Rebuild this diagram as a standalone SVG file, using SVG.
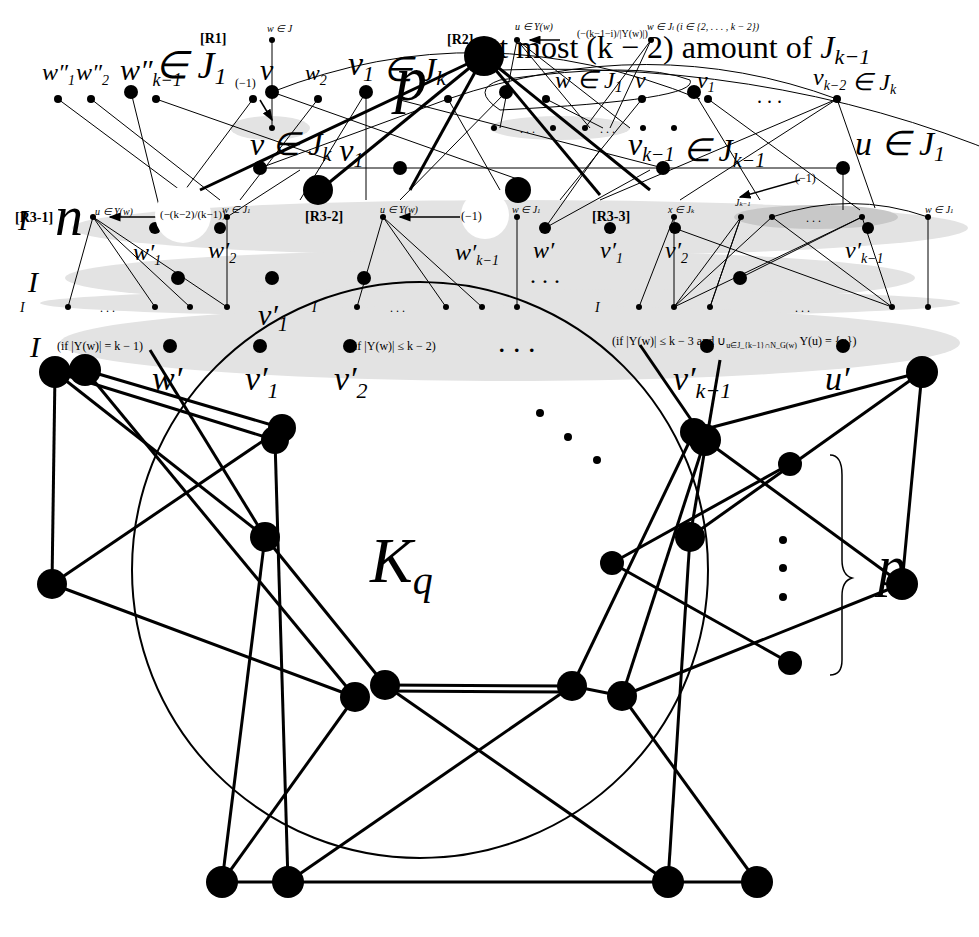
<svg xmlns="http://www.w3.org/2000/svg" width="979" height="937" viewBox="0 0 979 937">
<style>
.t{font-family:"Liberation Serif",serif;font-style:italic}
.r{font-family:"Liberation Serif",serif}
.b{font-family:"Liberation Serif",serif;font-weight:bold}
.thin line{stroke:#000;stroke-width:1}
.thick line{stroke:#000;stroke-width:3}
</style>
<defs><marker id="ar" markerWidth="8" markerHeight="6" refX="7" refY="3" orient="auto"><path d="M0,0L8,3L0,6z"/></marker></defs>
<rect width="979" height="937" fill="#fff"/>
<g id="bands" fill="#e3e3e3">
<ellipse cx="520" cy="228" rx="448" ry="28"/>
<ellipse cx="490" cy="278" rx="425" ry="28"/>
<ellipse cx="500" cy="303" rx="460" ry="14"/>
<ellipse cx="510" cy="343" rx="450" ry="38"/>
<ellipse cx="270" cy="128" rx="40" ry="12"/>
<ellipse cx="560" cy="128" rx="70" ry="12"/>
<ellipse cx="816" cy="217" rx="82" ry="12" fill="#c8c8c8"/>
</g>
<g id="connectors" fill="none" stroke="#000">
<circle cx="420" cy="570" r="288" stroke-width="2"/>
<g class="thick">
<line x1="55" y1="372" x2="275" y2="440"/><line x1="85" y1="370" x2="282" y2="428"/>
<line x1="55" y1="372" x2="265" y2="537"/><line x1="85" y1="370" x2="355" y2="697"/>
<line x1="55" y1="372" x2="52" y2="584"/><line x1="52" y1="584" x2="282" y2="428"/>
<line x1="52" y1="584" x2="355" y2="697"/><line x1="265" y1="537" x2="222" y2="882"/>
<line x1="265" y1="537" x2="385" y2="685"/><line x1="275" y1="440" x2="288" y2="882"/>
<line x1="385" y1="685" x2="572" y2="686"/><line x1="385" y1="691" x2="572" y2="692"/>
<line x1="355" y1="697" x2="222" y2="882"/><line x1="385" y1="685" x2="668" y2="882"/>
<line x1="222" y1="882" x2="288" y2="882"/><line x1="288" y1="882" x2="668" y2="882"/>
<line x1="668" y1="882" x2="757" y2="882"/><line x1="572" y1="686" x2="288" y2="882"/>
<line x1="622" y1="696" x2="757" y2="882"/><line x1="622" y1="696" x2="705" y2="440"/>
<line x1="572" y1="686" x2="694" y2="432"/><line x1="690" y1="537" x2="668" y2="882"/>
<line x1="690" y1="537" x2="922" y2="372"/><line x1="705" y1="440" x2="902" y2="584"/>
<line x1="922" y1="372" x2="902" y2="584"/><line x1="902" y1="584" x2="622" y2="696"/>
<line x1="694" y1="432" x2="922" y2="372"/><line x1="612" y1="563" x2="790" y2="663"/>
<line x1="612" y1="563" x2="790" y2="464"/><line x1="265" y1="537" x2="150" y2="350"/>
<line x1="705" y1="440" x2="640" y2="345"/><line x1="690" y1="537" x2="720" y2="360"/>
<line x1="572" y1="686" x2="622" y2="696"/>
<line x1="484" y1="56" x2="320" y2="190"/><line x1="484" y1="56" x2="410" y2="190"/>
<line x1="484" y1="56" x2="200" y2="190"/><line x1="484" y1="56" x2="650" y2="190"/>
<line x1="484" y1="56" x2="600" y2="195"/>
</g>
<g class="thin">
<line x1="58" y1="99" x2="180" y2="190"/><line x1="91" y1="99" x2="220" y2="200"/>
<line x1="131" y1="92" x2="160" y2="210"/><line x1="156" y1="99" x2="330" y2="160"/>
<line x1="272" y1="40" x2="272" y2="128"/><line x1="253" y1="99" x2="185" y2="190"/>
<line x1="272" y1="92" x2="520" y2="180"/><line x1="318" y1="99" x2="240" y2="200"/>
<line x1="366" y1="92" x2="366" y2="200"/><line x1="366" y1="92" x2="300" y2="200"/>
<line x1="448" y1="99" x2="500" y2="190"/><line x1="448" y1="99" x2="260" y2="168"/>
<line x1="506" y1="92" x2="400" y2="200"/><line x1="546" y1="99" x2="603" y2="128"/>
<line x1="642" y1="99" x2="560" y2="200"/><line x1="694" y1="92" x2="760" y2="200"/>
<line x1="708" y1="99" x2="860" y2="210"/><line x1="837" y1="99" x2="600" y2="200"/>
<line x1="837" y1="99" x2="680" y2="200"/><line x1="837" y1="99" x2="875" y2="208"/>
<line x1="517" y1="40" x2="500" y2="128"/><line x1="517" y1="40" x2="590" y2="128"/>
<line x1="651" y1="40" x2="610" y2="128"/><line x1="651" y1="40" x2="585" y2="128"/>
<line x1="517" y1="40" x2="630" y2="128"/><line x1="843" y1="168" x2="843" y2="210"/>
<line x1="260" y1="168" x2="840" y2="168"/><line x1="663" y1="168" x2="400" y2="100"/>
<line x1="93" y1="217" x2="68" y2="307"/><line x1="93" y1="217" x2="155" y2="307"/>
<line x1="93" y1="217" x2="190" y2="307"/><line x1="93" y1="217" x2="227" y2="307"/>
<line x1="227" y1="217" x2="227" y2="307"/><line x1="227" y1="217" x2="300" y2="170"/>
<line x1="383" y1="217" x2="357" y2="307"/><line x1="383" y1="217" x2="446" y2="307"/>
<line x1="383" y1="217" x2="482" y2="307"/><line x1="517" y1="217" x2="517" y2="307"/>
<line x1="545" y1="228" x2="650" y2="170"/><line x1="545" y1="228" x2="600" y2="150"/>
<line x1="674" y1="217" x2="674" y2="307"/><line x1="674" y1="217" x2="639" y2="307"/>
<line x1="741" y1="217" x2="674" y2="307"/><line x1="741" y1="217" x2="710" y2="307"/>
<line x1="772" y1="217" x2="674" y2="307"/><line x1="772" y1="217" x2="892" y2="307"/>
<line x1="862" y1="217" x2="674" y2="307"/><line x1="862" y1="217" x2="892" y2="307"/>
<line x1="928" y1="217" x2="928" y2="307"/><line x1="674" y1="228" x2="892" y2="307"/>
<line x1="741" y1="217" x2="710" y2="307"/><line x1="862" y1="217" x2="740" y2="278"/>
<path d="M272,92 Q480,10 700,99"/><path d="M448,99 Q650,30 837,99"/>
<path d="M500,80 Q640,60 690,80 Q700,100 500,110 Q470,90 500,80"/>
<path d="M505,70 Q800,60 1040,170" transform="translate(-4,0)"/>
<path d="M772,217 Q850,190 928,217"/>
</g>
<g stroke-width="1.5" marker-end="url(#ar)">
<line x1="180" y1="217" x2="110" y2="217"/><line x1="460" y1="217" x2="400" y2="217"/>
<line x1="560" y1="40" x2="530" y2="40"/><line x1="260" y1="100" x2="272" y2="120"/>
<line x1="800" y1="180" x2="740" y2="197"/>
</g>
</g>
<g id="nodes" fill="#000">
<g id="big"><circle cx="55" cy="372" r="16"/><circle cx="85" cy="370" r="16"/><circle cx="275" cy="440" r="14"/><circle cx="282" cy="428" r="14"/><circle cx="265" cy="537" r="15"/><circle cx="52" cy="584" r="15"/><circle cx="355" cy="697" r="15"/><circle cx="385" cy="685" r="15"/><circle cx="572" cy="686" r="15"/><circle cx="622" cy="696" r="15"/><circle cx="222" cy="882" r="16"/><circle cx="288" cy="882" r="16"/><circle cx="668" cy="882" r="16"/><circle cx="757" cy="882" r="16"/><circle cx="705" cy="440" r="16"/><circle cx="694" cy="432" r="14"/><circle cx="690" cy="537" r="15"/><circle cx="922" cy="372" r="16"/><circle cx="902" cy="584" r="16"/><circle cx="790" cy="464" r="12"/><circle cx="612" cy="563" r="12"/><circle cx="790" cy="663" r="12"/><circle cx="484" cy="56" r="20"/><circle cx="318" cy="190" r="15"/><circle cx="518" cy="190" r="13"/></g>
<g id="dots"><circle cx="540" cy="413" r="4"/><circle cx="568" cy="437" r="4"/><circle cx="597" cy="460" r="4"/><circle cx="783" cy="540" r="4"/><circle cx="783" cy="568" r="4"/><circle cx="783" cy="597" r="4"/></g>
<g id="mid"><circle cx="131" cy="92" r="7"/><circle cx="272" cy="92" r="7"/><circle cx="366" cy="92" r="7"/><circle cx="506" cy="92" r="7"/><circle cx="694" cy="92" r="7"/><circle cx="260" cy="168" r="7"/><circle cx="400" cy="168" r="7"/><circle cx="663" cy="168" r="7"/><circle cx="843" cy="168" r="7"/><circle cx="155" cy="228" r="6"/><circle cx="220" cy="228" r="6"/><circle cx="545" cy="228" r="6"/><circle cx="610" cy="228" r="6"/><circle cx="675" cy="228" r="6"/><circle cx="868" cy="228" r="6"/><circle cx="178" cy="278" r="7"/><circle cx="272" cy="278" r="7"/><circle cx="364" cy="278" r="7"/><circle cx="740" cy="278" r="7"/><circle cx="170" cy="346" r="7"/><circle cx="260" cy="346" r="7"/><circle cx="350" cy="346" r="7"/><circle cx="707" cy="346" r="7"/><circle cx="843" cy="346" r="7"/></g>
<g id="small"><circle cx="58" cy="99" r="4"/><circle cx="91" cy="99" r="4"/><circle cx="156" cy="99" r="4"/><circle cx="272" cy="40" r="3"/><circle cx="253" cy="99" r="4"/><circle cx="318" cy="99" r="4"/><circle cx="448" cy="99" r="4"/><circle cx="546" cy="99" r="4"/><circle cx="642" cy="99" r="4"/><circle cx="708" cy="99" r="4"/><circle cx="837" cy="99" r="4"/><circle cx="272" cy="128" r="3"/><circle cx="494" cy="128" r="3"/><circle cx="553" cy="128" r="3"/><circle cx="585" cy="128" r="3"/><circle cx="643" cy="128" r="3"/><circle cx="674" cy="128" r="3"/><circle cx="517" cy="40" r="3"/><circle cx="651" cy="40" r="3"/><circle cx="93" cy="217" r="3"/><circle cx="227" cy="217" r="3"/><circle cx="383" cy="217" r="3"/><circle cx="517" cy="217" r="3"/><circle cx="674" cy="217" r="3"/><circle cx="741" cy="217" r="3"/><circle cx="772" cy="217" r="3"/><circle cx="862" cy="217" r="3"/><circle cx="928" cy="217" r="3"/><circle cx="68" cy="307" r="3"/><circle cx="155" cy="307" r="3"/><circle cx="190" cy="307" r="3"/><circle cx="227" cy="307" r="3"/><circle cx="357" cy="307" r="3"/><circle cx="446" cy="307" r="3"/><circle cx="482" cy="307" r="3"/><circle cx="517" cy="307" r="3"/><circle cx="639" cy="307" r="3"/><circle cx="674" cy="307" r="3"/><circle cx="710" cy="307" r="3"/><circle cx="892" cy="307" r="3"/><circle cx="928" cy="307" r="3"/></g>
</g>
<g id="labels">
<circle cx="183" cy="215" r="28" fill="#fff"/><circle cx="485" cy="215" r="24" fill="#fff"/>
<text x="370" y="582" class="t" font-size="64">K<tspan font-size="40" dy="12">q</tspan></text>
<text x="878" y="585" class="t" font-size="56">p</text>
<path d="M830,455 Q842,455 842,475 L842,560 Q842,575 852,578 Q842,581 842,596 L842,660 Q842,675 830,675" fill="none" stroke="#000" stroke-width="1.5"/>
<text x="152" y="390" class="t" font-size="34">w′</text><text x="245" y="390" class="t" font-size="34">v′<tspan font-size="22" dy="8">1</tspan></text><text x="334" y="390" class="t" font-size="34">v′<tspan font-size="22" dy="8">2</tspan></text><text x="498" y="352" class="r" font-size="30">. . .</text><text x="673" y="390" class="t" font-size="34">v′<tspan font-size="22" dy="8">k−1</tspan></text><text x="825" y="390" class="t" font-size="34">u′</text>
<text x="42" y="80" class="t" font-size="24">w″<tspan font-size="14" dy="5">1</tspan></text><text x="76" y="80" class="t" font-size="24">w″<tspan font-size="14" dy="5">2</tspan></text><text x="120" y="80" class="t" font-size="30">w″<tspan font-size="18" dy="6">k−1</tspan></text><text x="155" y="78" class="t" font-size="38">∈ J<tspan font-size="24" dy="6">1</tspan></text>
<text x="200" y="43" class="b" font-size="14">[R1]</text><text x="267" y="32" class="t" font-size="10">w ∈ J</text>
<text x="260" y="80" class="t" font-size="30">v</text><text x="235" y="87" class="r" font-size="12">(−1)</text>
<text x="305" y="80" class="t" font-size="22">w<tspan font-size="14" dy="5">2</tspan></text>
<text x="348" y="75" class="t" font-size="34">v<tspan font-size="22" dy="6">1</tspan> ∈ J<tspan font-size="22" dy="4">k</tspan></text>
<text x="395" y="100" class="t" font-size="64">p</text>
<text x="447" y="44" class="b" font-size="14">[R2]</text>
<text x="485" y="58" class="r" font-size="32">at most (k − 2) amount of <tspan class="t">J<tspan font-size="22" dy="6">k−1</tspan></tspan></text>
<text x="515" y="30" class="t" font-size="10">u ∈ Y(w)</text><text x="577" y="37" class="r" font-size="10">(−(k−1−i)/|Y(w)|)</text><text x="647" y="30" class="t" font-size="10">w ∈ J<tspan font-size="7">i</tspan> (i ∈ {2, . . . , k − 2})</text>
<text x="555" y="88" class="t" font-size="24">w ∈ J<tspan font-size="16" dy="4">1</tspan></text><text x="635" y="88" class="t" font-size="24">v</text><text x="697" y="88" class="t" font-size="24">v<tspan font-size="14" dy="4">1</tspan></text>
<text x="757" y="103" class="r" font-size="20">. . .</text>
<text x="813" y="85" class="t" font-size="24">v<tspan font-size="14" dy="5">k−2</tspan> ∈ J<tspan font-size="14" dy="4">k</tspan></text>
<text x="855" y="155" class="t" font-size="34">u ∈ J<tspan font-size="22" dy="6">1</tspan></text>
<text x="628" y="155" class="t" font-size="32">v<tspan font-size="20" dy="6">k−1</tspan> ∈ J<tspan font-size="20" dy="6">k−1</tspan></text>
<text x="250" y="155" class="t" font-size="32">v ∈ J<tspan font-size="20" dy="6">k</tspan> v<tspan font-size="20" dy="6">1</tspan></text>
<text x="520" y="133" class="r" font-size="12">. . .</text><text x="600" y="133" class="r" font-size="12">. . .</text>
<text x="795" y="182" class="r" font-size="12">(−1)</text>
<text x="15" y="222" class="b" font-size="14">[R3-1]</text><text x="55" y="235" class="t" font-size="56">n</text>
<text x="95" y="215" class="t" font-size="10">u ∈ Y(w)</text><text x="160" y="218" class="r" font-size="11">(−(k−2)/(k−1))</text><text x="222" y="213" class="t" font-size="10">w ∈ J<tspan font-size="7">1</tspan></text>
<text x="305" y="221" class="b" font-size="14">[R3-2]</text><text x="380" y="213" class="t" font-size="10">u ∈ Y(w)</text><text x="461" y="220" class="r" font-size="12">(−1)</text><text x="512" y="213" class="t" font-size="10">w ∈ J<tspan font-size="7">1</tspan></text>
<text x="592" y="221" class="b" font-size="14">[R3-3]</text><text x="668" y="213" class="t" font-size="10">x ∈ J<tspan font-size="7">k</tspan></text><text x="735" y="206" class="t" font-size="10">J<tspan font-size="7">k−1</tspan></text><text x="925" y="213" class="t" font-size="10">w ∈ J<tspan font-size="7">1</tspan></text><text x="806" y="222" class="r" font-size="12">. . .</text>
<text x="133" y="260" class="t" font-size="24">w′<tspan font-size="14" dy="5">1</tspan></text><text x="208" y="258" class="t" font-size="24">w′<tspan font-size="14" dy="5">2</tspan></text><text x="455" y="260" class="t" font-size="24">w′<tspan font-size="14" dy="5">k−1</tspan></text>
<text x="533" y="258" class="t" font-size="24">w′</text><text x="600" y="258" class="t" font-size="24">v′<tspan font-size="14" dy="5">1</tspan></text><text x="665" y="258" class="t" font-size="24">v′<tspan font-size="14" dy="5">2</tspan></text><text x="845" y="258" class="t" font-size="24">v′<tspan font-size="14" dy="5">k−1</tspan></text><text x="530" y="283" class="r" font-size="24">. . .</text>
<text x="28" y="292" class="t" font-size="30">I</text><text x="20" y="312" class="t" font-size="14">I</text><text x="312" y="312" class="t" font-size="14">I</text><text x="595" y="312" class="t" font-size="14">I</text><text x="30" y="357" class="t" font-size="30">I</text><text x="18" y="230" class="t" font-size="30">I</text>
<text x="100" y="312" class="r" font-size="12">. . .</text><text x="390" y="312" class="r" font-size="12">. . .</text><text x="795" y="312" class="r" font-size="12">. . .</text>
<text x="258" y="325" class="t" font-size="30">v′<tspan font-size="20" dy="6">1</tspan></text>
<text x="57" y="350" class="r" font-size="12">(if |Y(w)| = k − 1)</text><text x="350" y="350" class="r" font-size="12">(if |Y(w)| ≤ k − 2)</text><text x="612" y="345" class="r" font-size="12">(if |Y(w)| ≤ k − 3 and ∪<tspan font-size="8" dy="3">u∈J_{k−1}∩N_G(w)</tspan><tspan dy="-3"> Y(u) = {x})</tspan></text>
</g>
</svg>
